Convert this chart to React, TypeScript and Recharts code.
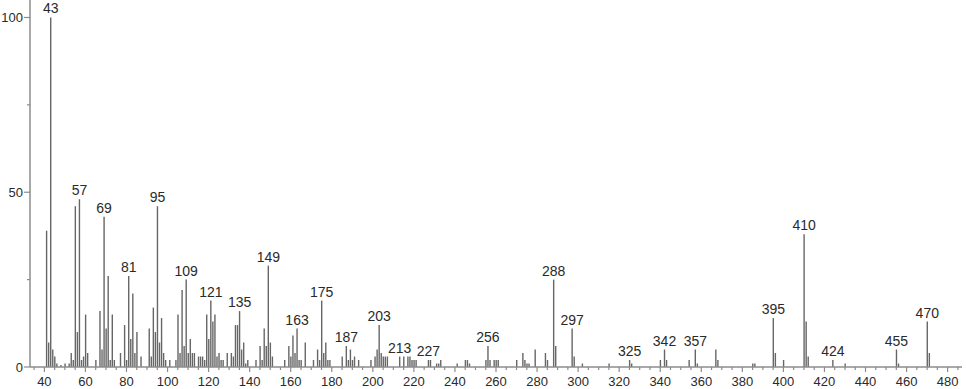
import React from 'react';
import { BarChart, Bar, XAxis, YAxis } from 'recharts';

const mzValues = [
  41, 42, 43, 44, 45, 46, 48, 50, 52, 53, 54, 55, 56, 57, 58, 59, 60, 61, 65, 67, 68, 69, 70, 71, 72, 73, 74, 77, 79, 80,
  81, 82, 83, 84, 85, 87, 91, 92, 93, 94, 95, 96, 97, 98, 99, 101, 104, 105, 106, 107, 108, 109, 110, 111, 112, 113,
  115, 116, 117, 118, 119, 120, 121, 122, 123, 124, 125, 126, 127, 129, 131, 132, 133, 134, 135, 136, 137, 138, 139,
  143, 145, 146, 147, 148, 149, 150, 151, 157, 159, 160, 161, 162, 163, 164, 165, 167, 171, 173, 174, 175, 176, 177,
  178, 179, 185, 187, 188, 189, 190, 191, 193, 199, 201, 202, 203, 204, 205, 206, 207, 213, 215, 217, 218, 219, 220,
  221, 227, 228, 231, 232, 233, 241, 245, 246, 247, 255, 256, 257, 259, 260, 261, 270, 273, 274, 275, 276, 279, 284,
  285, 288, 289, 297, 298, 302, 315, 325, 326, 340, 342, 343, 354, 357, 358, 367, 368, 385, 386, 395, 396, 400, 410,
  411, 412, 424, 430, 455, 456, 470, 471,
];

const intensities = [
  39, 7, 100, 5, 3, 1, 0.6, 1, 1, 4, 2, 46, 10, 48, 2, 3, 15, 4, 2, 16, 5, 43, 11, 26, 2, 15, 2, 4, 12, 2,
  26, 8, 21, 4, 10, 3, 11, 3, 17, 10, 46, 7, 14, 4, 2, 2, 2, 15, 4, 22, 6, 25, 4, 8, 4, 4,
  3, 3, 3, 2, 15, 8, 19, 13, 15, 3, 4, 2, 2, 4, 4, 3, 12, 12, 16, 5, 7, 1, 2,
  2, 6, 2, 11, 6, 29, 7, 3, 2, 6, 3, 9, 4, 11, 2, 2, 7, 2, 5, 2, 19, 4, 7,
  2, 2, 3, 6, 2, 5, 2, 3, 2, 2, 3, 5, 12, 4, 3, 3, 3, 3, 3, 3, 3, 2, 2,
  2, 2, 2, 1, 1, 2, 1, 2, 2, 1, 2, 6, 2, 2, 2, 2, 2, 4, 2, 1, 1, 5, 4,
  2, 25, 6, 11, 3, 1, 1, 2, 1, 2, 5, 2, 2, 5, 1, 5, 2, 1, 1, 14, 4, 2, 38,
  13, 3, 2, 1, 5, 1, 13, 4,
];

const labeledPeaks = [
  43, 57, 69, 81, 95, 109, 121, 135, 149, 163, 175, 187, 203, 213, 227, 256, 288, 297, 325, 342, 357, 395, 410, 424,
  455, 470,
];

const xLabelTicks = [40, 60, 80, 100, 120, 140, 160, 180, 200, 220, 240, 260, 280, 300, 320, 340, 360, 380, 400, 420, 440, 460, 480];
const yTicks = [0, 25, 50, 75, 100];
const yLabelTicks = [0, 50, 100];

const xTicks: number[] = [];
for (let v = 35; v <= 485; v += 5) xTicks.push(v);

const data = mzValues.map((mz, i) => ({
  mz,
  intensity: intensities[i],
  label: labeledPeaks.includes(mz) ? String(mz) : '',
}));

const FONT = '"Liberation Sans", Arial, sans-serif';
const AXIS = '#8c8c8c';

const PeakShape = (props: any) => {
  const { x, y, width, height, payload } = props;
  const cx = x + width / 2;
  return (
    <g>
      <line x1={cx} x2={cx} y1={y} y2={y + height} stroke="#666" strokeWidth={1.4} />
      {payload && payload.label ? (
        <text x={cx} y={y - 4} textAnchor="middle" fontSize={14} fill="#2a2a2a" fontFamily={FONT}>
          {payload.label}
        </text>
      ) : null}
    </g>
  );
};

const XTick = (props: any) => {
  const { x, y, payload } = props;
  const v = payload.value;
  const major = xLabelTicks.includes(v);
  const len = major ? 5 : 3;
  return (
    <g>
      <line x1={x} x2={x} y1={y} y2={y + len} stroke={AXIS} strokeWidth={1.2} />
      {major ? (
        <text x={x} y={y + 19} textAnchor="middle" fontSize={13} fill="#2a2a2a" fontFamily={FONT}>
          {v}
        </text>
      ) : null}
    </g>
  );
};

const YTick = (props: any) => {
  const { x, y, payload } = props;
  const v = payload.value;
  const major = yLabelTicks.includes(v);
  const len = major ? 6 : 3;
  return (
    <g>
      <line x1={x - len} x2={x} y1={y} y2={y} stroke={AXIS} strokeWidth={1.2} />
      {major ? (
        <text x={x - len - 1} y={y + 5} textAnchor="end" fontSize={13} fill="#2a2a2a" fontFamily={FONT}>
          {v}
        </text>
      ) : null}
    </g>
  );
};

export default function App() {
  return (
    <div style={{ position: 'absolute', left: 0, top: 0, width: 966, height: 389, background: '#fff' }}>
      <BarChart width={966} height={389} data={data} margin={{ top: 0, right: 4, bottom: 0, left: 0 }}>
        <XAxis
          dataKey="mz"
          type="number"
          domain={[33, 487]}
          allowDataOverflow
          ticks={xTicks}
          interval={0}
          tickSize={0}
          tickMargin={0}
          tick={<XTick />}
          axisLine={{ stroke: AXIS, strokeWidth: 1.5 }}
          height={22}
        />
        <YAxis
          type="number"
          domain={[0, 105]}
          allowDataOverflow
          ticks={yTicks}
          interval={0}
          tickSize={0}
          tickMargin={0}
          tick={<YTick />}
          axisLine={{ stroke: AXIS, strokeWidth: 1.5 }}
          width={30}
        />
        <Bar dataKey="intensity" isAnimationActive={false} shape={<PeakShape />} />
      </BarChart>
    </div>
  );
}
